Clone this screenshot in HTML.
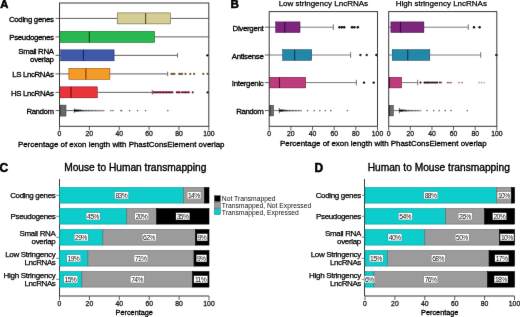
<!DOCTYPE html>
<html><head><meta charset="utf-8"><style>
html,body{margin:0;padding:0;background:#fff;width:520px;height:317px;overflow:hidden}
svg{display:block;font-family:"Liberation Sans", sans-serif}
</style></head><body>
<svg width="520" height="317" viewBox="0 0 520 317">
<defs><filter id="soft" x="0" y="0" width="520" height="317" filterUnits="userSpaceOnUse" color-interpolation-filters="sRGB"><feConvolveMatrix order="3" kernelMatrix="0.00276 0.04704 0.00276 0.04704 0.80077 0.04704 0.00276 0.04704 0.00276" edgeMode="duplicate"/></filter></defs>
<g filter="url(#soft)">
<rect x="0" y="0" width="520" height="317" fill="#fff"/>
<text x="0.20" y="8.10" font-size="11.2" text-anchor="start" font-weight="bold" fill="#000" stroke="#000" stroke-width="0.55" >A</text>
<text x="230.40" y="8.10" font-size="11.6" text-anchor="start" font-weight="bold" fill="#000" stroke="#000" stroke-width="0.55" >B</text>
<text x="-0.50" y="171.60" font-size="12" text-anchor="start" font-weight="bold" fill="#000" stroke="#000" stroke-width="0.5" >C</text>
<text x="314.60" y="171.60" font-size="12" text-anchor="start" font-weight="bold" fill="#000" stroke="#000" stroke-width="0.5" >D</text>
<line x1="55.50" y1="18.40" x2="59.50" y2="18.40" stroke="#3a3a3a" stroke-width="0.8"/>
<text x="54.00" y="21.70" font-size="7.88" text-anchor="end" font-weight="normal" fill="#000" stroke="#000" stroke-width="0.3"  textLength="45.05" lengthAdjust="spacing">Coding genes</text>
<line x1="55.50" y1="36.90" x2="59.50" y2="36.90" stroke="#3a3a3a" stroke-width="0.8"/>
<text x="54.00" y="40.20" font-size="7.88" text-anchor="end" font-weight="normal" fill="#000" stroke="#000" stroke-width="0.3"  textLength="44.65" lengthAdjust="spacing">Pseudogenes</text>
<line x1="55.50" y1="55.35" x2="59.50" y2="55.35" stroke="#3a3a3a" stroke-width="0.8"/>
<line x1="55.50" y1="73.90" x2="59.50" y2="73.90" stroke="#3a3a3a" stroke-width="0.8"/>
<text x="54.00" y="77.20" font-size="7.88" text-anchor="end" font-weight="normal" fill="#000" stroke="#000" stroke-width="0.3"  textLength="41.79" lengthAdjust="spacing">LS LncRNAs</text>
<line x1="55.50" y1="92.35" x2="59.50" y2="92.35" stroke="#3a3a3a" stroke-width="0.8"/>
<text x="54.00" y="95.65" font-size="7.88" text-anchor="end" font-weight="normal" fill="#000" stroke="#000" stroke-width="0.3"  textLength="43.00" lengthAdjust="spacing">HS LncRNAs</text>
<line x1="55.50" y1="110.60" x2="59.50" y2="110.60" stroke="#3a3a3a" stroke-width="0.8"/>
<text x="54.00" y="113.90" font-size="7.88" text-anchor="end" font-weight="normal" fill="#000" stroke="#000" stroke-width="0.3"  textLength="27.59" lengthAdjust="spacing">Random</text>
<text x="54.00" y="54.00" font-size="7.88" text-anchor="end" font-weight="normal" fill="#000" stroke="#000" stroke-width="0.3"  textLength="35.69" lengthAdjust="spacing">Small RNA</text>
<text x="54.00" y="61.90" font-size="7.88" text-anchor="end" font-weight="normal" fill="#000" stroke="#000" stroke-width="0.3"  textLength="23.94" lengthAdjust="spacing">overlap</text>
<line x1="59.50" y1="18.40" x2="117.20" y2="18.40" stroke="#606060" stroke-width="1.0"/>
<line x1="170.60" y1="18.40" x2="208.80" y2="18.40" stroke="#606060" stroke-width="1.0"/>
<rect x="117.20" y="12.90" width="53.40" height="11.00" fill="#d4cd96" stroke="#5b5020" stroke-width="0.5"/>
<line x1="145.60" y1="12.90" x2="145.60" y2="23.90" stroke="#5b5020" stroke-width="1.1"/>
<line x1="59.50" y1="36.90" x2="59.80" y2="36.90" stroke="#606060" stroke-width="1.0"/>
<line x1="154.60" y1="36.90" x2="208.80" y2="36.90" stroke="#606060" stroke-width="1.0"/>
<rect x="59.80" y="31.40" width="94.80" height="11.00" fill="#2ab950" stroke="#0c4a1a" stroke-width="0.5"/>
<line x1="89.30" y1="31.40" x2="89.30" y2="42.40" stroke="#0c4a1a" stroke-width="1.1"/>
<line x1="59.50" y1="55.35" x2="60.70" y2="55.35" stroke="#606060" stroke-width="1.0"/>
<line x1="114.10" y1="55.35" x2="177.50" y2="55.35" stroke="#606060" stroke-width="1.0"/>
<line x1="177.50" y1="53.05" x2="177.50" y2="57.65" stroke="#606060" stroke-width="0.9"/>
<rect x="60.70" y="49.85" width="53.40" height="11.00" fill="#3e58aa" stroke="#1a2560" stroke-width="0.5"/>
<line x1="83.40" y1="49.85" x2="83.40" y2="60.85" stroke="#1a2560" stroke-width="1.1"/>
<line x1="59.50" y1="73.90" x2="68.90" y2="73.90" stroke="#606060" stroke-width="1.0"/>
<line x1="109.90" y1="73.90" x2="167.70" y2="73.90" stroke="#606060" stroke-width="1.0"/>
<line x1="167.70" y1="71.60" x2="167.70" y2="76.20" stroke="#606060" stroke-width="0.9"/>
<rect x="68.90" y="68.40" width="41.00" height="11.00" fill="#f59b23" stroke="#7a3a05" stroke-width="0.5"/>
<line x1="85.90" y1="68.40" x2="85.90" y2="79.40" stroke="#7a3a05" stroke-width="1.1"/>
<line x1="59.50" y1="92.35" x2="59.80" y2="92.35" stroke="#606060" stroke-width="1.0"/>
<line x1="97.30" y1="92.35" x2="152.30" y2="92.35" stroke="#606060" stroke-width="1.0"/>
<line x1="152.30" y1="90.05" x2="152.30" y2="94.65" stroke="#606060" stroke-width="0.9"/>
<rect x="59.80" y="86.85" width="37.50" height="11.00" fill="#eb343a" stroke="#6a0a10" stroke-width="0.5"/>
<line x1="71.00" y1="86.85" x2="71.00" y2="97.85" stroke="#6a0a10" stroke-width="1.1"/>
<line x1="59.50" y1="110.60" x2="59.40" y2="110.60" stroke="#606060" stroke-width="1.0"/>
<line x1="66.00" y1="110.60" x2="74.40" y2="110.60" stroke="#606060" stroke-width="1.0"/>
<line x1="74.40" y1="108.30" x2="74.40" y2="112.90" stroke="#606060" stroke-width="0.9"/>
<rect x="59.40" y="105.10" width="6.60" height="11.00" fill="#646868" stroke="#333" stroke-width="0.5"/>
<line x1="60.00" y1="105.10" x2="60.00" y2="116.10" stroke="#333" stroke-width="1.1"/>
<circle cx="207.40" cy="55.35" r="1.2" fill="#111"/>
<circle cx="171.50" cy="73.90" r="1.1" fill="#7a5a30"/>
<circle cx="173.00" cy="73.90" r="1.1" fill="#7a5a30"/>
<circle cx="174.40" cy="73.90" r="1.1" fill="#7a5a30"/>
<circle cx="179.20" cy="73.90" r="1.1" fill="#7a5a30"/>
<circle cx="180.70" cy="73.90" r="1.1" fill="#7a5a30"/>
<circle cx="182.10" cy="73.90" r="1.1" fill="#7a5a30"/>
<circle cx="185.50" cy="73.90" r="1.1" fill="#7a5a30"/>
<circle cx="190.30" cy="73.90" r="1.1" fill="#7a5a30"/>
<circle cx="194.10" cy="73.90" r="1.1" fill="#7a5a30"/>
<circle cx="203.30" cy="73.90" r="1.1" fill="#7a5a30"/>
<circle cx="207.60" cy="73.90" r="1.1" fill="#7a5a30"/>
<circle cx="153.50" cy="92.35" r="1.1" fill="#6a1030"/>
<circle cx="154.95" cy="92.35" r="1.1" fill="#6a1030"/>
<circle cx="156.40" cy="92.35" r="1.1" fill="#6a1030"/>
<circle cx="157.85" cy="92.35" r="1.1" fill="#6a1030"/>
<circle cx="159.30" cy="92.35" r="1.1" fill="#6a1030"/>
<circle cx="160.75" cy="92.35" r="1.1" fill="#6a1030"/>
<circle cx="162.20" cy="92.35" r="1.1" fill="#6a1030"/>
<circle cx="163.65" cy="92.35" r="1.1" fill="#6a1030"/>
<circle cx="165.10" cy="92.35" r="1.1" fill="#6a1030"/>
<circle cx="166.55" cy="92.35" r="1.1" fill="#6a1030"/>
<circle cx="168.00" cy="92.35" r="1.1" fill="#6a1030"/>
<circle cx="169.45" cy="92.35" r="1.1" fill="#6a1030"/>
<circle cx="170.90" cy="92.35" r="1.1" fill="#6a1030"/>
<circle cx="172.35" cy="92.35" r="1.1" fill="#6a1030"/>
<circle cx="176.80" cy="92.35" r="1.1" fill="#6a1030"/>
<circle cx="178.20" cy="92.35" r="1.1" fill="#6a1030"/>
<circle cx="179.60" cy="92.35" r="1.1" fill="#6a1030"/>
<circle cx="182.10" cy="92.35" r="1.1" fill="#6a1030"/>
<circle cx="184.00" cy="92.35" r="1.1" fill="#6a1030"/>
<circle cx="185.50" cy="92.35" r="1.1" fill="#6a1030"/>
<circle cx="187.00" cy="92.35" r="1.1" fill="#6a1030"/>
<circle cx="188.80" cy="92.35" r="1.1" fill="#6a1030"/>
<circle cx="192.70" cy="92.35" r="1.1" fill="#6a1030"/>
<circle cx="207.80" cy="92.35" r="1.2" fill="#111"/>
<circle cx="75.10" cy="110.60" r="1.15" fill="rgb(0,0,0)"/>
<circle cx="76.40" cy="110.60" r="1.1083333333333332" fill="rgb(10,10,10)"/>
<circle cx="77.70" cy="110.60" r="1.0666666666666667" fill="rgb(20,20,20)"/>
<circle cx="79.00" cy="110.60" r="1.025" fill="rgb(30,30,30)"/>
<circle cx="80.30" cy="110.60" r="0.9833333333333333" fill="rgb(40,40,40)"/>
<circle cx="81.60" cy="110.60" r="0.9416666666666665" fill="rgb(50,50,50)"/>
<circle cx="82.90" cy="110.60" r="0.8999999999999999" fill="rgb(60,60,60)"/>
<line x1="83.00" y1="110.60" x2="105.00" y2="110.60" stroke="#9a9a9a" stroke-width="0.8"/>
<circle cx="83.80" cy="110.60" r="0.85" fill="rgb(80,80,80)"/>
<circle cx="85.30" cy="110.60" r="0.85" fill="rgb(85,85,85)"/>
<circle cx="86.80" cy="110.60" r="0.85" fill="rgb(90,90,90)"/>
<circle cx="88.30" cy="110.60" r="0.85" fill="rgb(96,96,96)"/>
<circle cx="89.80" cy="110.60" r="0.85" fill="rgb(101,101,101)"/>
<circle cx="91.30" cy="110.60" r="0.85" fill="rgb(106,106,106)"/>
<circle cx="92.80" cy="110.60" r="0.85" fill="rgb(112,112,112)"/>
<circle cx="94.30" cy="110.60" r="0.85" fill="rgb(117,117,117)"/>
<circle cx="95.80" cy="110.60" r="0.85" fill="rgb(123,123,123)"/>
<circle cx="97.30" cy="110.60" r="0.85" fill="rgb(128,128,128)"/>
<circle cx="98.80" cy="110.60" r="0.85" fill="rgb(133,133,133)"/>
<circle cx="100.30" cy="110.60" r="0.85" fill="rgb(139,139,139)"/>
<circle cx="101.80" cy="110.60" r="0.85" fill="rgb(144,144,144)"/>
<circle cx="103.30" cy="110.60" r="0.85" fill="rgb(150,150,150)"/>
<circle cx="110.80" cy="110.60" r="0.85" fill="#7a7a7a"/>
<circle cx="113.00" cy="110.60" r="0.85" fill="#7a7a7a"/>
<circle cx="121.00" cy="110.60" r="0.85" fill="#7a7a7a"/>
<circle cx="121.60" cy="110.60" r="0.85" fill="#7a7a7a"/>
<circle cx="129.60" cy="110.60" r="0.85" fill="#7a7a7a"/>
<circle cx="137.50" cy="110.60" r="0.85" fill="#7a7a7a"/>
<circle cx="145.50" cy="110.60" r="0.85" fill="#7a7a7a"/>
<circle cx="167.80" cy="110.60" r="0.85" fill="#7a7a7a"/>
<rect x="59.5" y="3.0" width="149.30" height="123.30" fill="none" stroke="#3a3a3a" stroke-width="1"/>
<line x1="59.50" y1="126.30" x2="59.50" y2="130.30" stroke="#3a3a3a" stroke-width="0.8"/>
<text x="59.50" y="136.30" font-size="6.8" text-anchor="middle" font-weight="normal" fill="#222" stroke="#222" stroke-width="0.3" >0</text>
<line x1="89.36" y1="126.30" x2="89.36" y2="130.30" stroke="#3a3a3a" stroke-width="0.8"/>
<text x="89.36" y="136.30" font-size="6.8" text-anchor="middle" font-weight="normal" fill="#222" stroke="#222" stroke-width="0.3" >20</text>
<line x1="119.22" y1="126.30" x2="119.22" y2="130.30" stroke="#3a3a3a" stroke-width="0.8"/>
<text x="119.22" y="136.30" font-size="6.8" text-anchor="middle" font-weight="normal" fill="#222" stroke="#222" stroke-width="0.3" >40</text>
<line x1="149.08" y1="126.30" x2="149.08" y2="130.30" stroke="#3a3a3a" stroke-width="0.8"/>
<text x="149.08" y="136.30" font-size="6.8" text-anchor="middle" font-weight="normal" fill="#222" stroke="#222" stroke-width="0.3" >60</text>
<line x1="178.94" y1="126.30" x2="178.94" y2="130.30" stroke="#3a3a3a" stroke-width="0.8"/>
<text x="178.94" y="136.30" font-size="6.8" text-anchor="middle" font-weight="normal" fill="#222" stroke="#222" stroke-width="0.3" >80</text>
<line x1="208.80" y1="126.30" x2="208.80" y2="130.30" stroke="#3a3a3a" stroke-width="0.8"/>
<text x="208.80" y="136.30" font-size="6.8" text-anchor="middle" font-weight="normal" fill="#222" stroke="#222" stroke-width="0.3" >100</text>
<text x="17.90" y="147.40" font-size="7.92" text-anchor="start" font-weight="normal" fill="#000" stroke="#000" stroke-width="0.3" >Percentage of exon length with PhastConsElement overlap</text>
<line x1="264.80" y1="27.20" x2="269.20" y2="27.20" stroke="#3a3a3a" stroke-width="0.8"/>
<text x="263.80" y="30.70" font-size="7.88" text-anchor="end" font-weight="normal" fill="#000" stroke="#000" stroke-width="0.3"  textLength="31.24" lengthAdjust="spacing">Divergent</text>
<line x1="264.80" y1="55.00" x2="269.20" y2="55.00" stroke="#3a3a3a" stroke-width="0.8"/>
<text x="263.80" y="58.50" font-size="7.88" text-anchor="end" font-weight="normal" fill="#000" stroke="#000" stroke-width="0.3"  textLength="32.06" lengthAdjust="spacing">Antisense</text>
<line x1="264.80" y1="82.60" x2="269.20" y2="82.60" stroke="#3a3a3a" stroke-width="0.8"/>
<text x="263.80" y="86.10" font-size="7.88" text-anchor="end" font-weight="normal" fill="#000" stroke="#000" stroke-width="0.3"  textLength="32.06" lengthAdjust="spacing">Intergenic</text>
<line x1="264.80" y1="110.60" x2="269.20" y2="110.60" stroke="#3a3a3a" stroke-width="0.8"/>
<text x="263.80" y="114.10" font-size="7.88" text-anchor="end" font-weight="normal" fill="#000" stroke="#000" stroke-width="0.3"  textLength="27.59" lengthAdjust="spacing">Random</text>
<line x1="269.20" y1="27.20" x2="275.70" y2="27.20" stroke="#666" stroke-width="0.85"/>
<line x1="300.00" y1="27.20" x2="333.30" y2="27.20" stroke="#666" stroke-width="0.85"/>
<line x1="333.30" y1="24.40" x2="333.30" y2="30.00" stroke="#666" stroke-width="0.9"/>
<rect x="275.70" y="21.90" width="24.30" height="10.60" fill="#7d267d" stroke="#3a0a3a" stroke-width="0.5"/>
<line x1="284.80" y1="21.90" x2="284.80" y2="32.50" stroke="#3a0a3a" stroke-width="1.1"/>
<line x1="269.20" y1="55.00" x2="282.70" y2="55.00" stroke="#666" stroke-width="0.85"/>
<line x1="311.70" y1="55.00" x2="350.60" y2="55.00" stroke="#666" stroke-width="0.85"/>
<line x1="350.60" y1="52.20" x2="350.60" y2="57.80" stroke="#666" stroke-width="0.9"/>
<rect x="282.70" y="49.70" width="29.00" height="10.60" fill="#2387aa" stroke="#0a3a50" stroke-width="0.5"/>
<line x1="294.70" y1="49.70" x2="294.70" y2="60.30" stroke="#0a3a50" stroke-width="1.1"/>
<line x1="269.20" y1="82.60" x2="269.50" y2="82.60" stroke="#666" stroke-width="0.85"/>
<line x1="305.70" y1="82.60" x2="356.40" y2="82.60" stroke="#666" stroke-width="0.85"/>
<line x1="356.40" y1="79.80" x2="356.40" y2="85.40" stroke="#666" stroke-width="0.9"/>
<rect x="269.50" y="77.30" width="36.20" height="10.60" fill="#be3c7d" stroke="#5a0a30" stroke-width="0.5"/>
<line x1="279.50" y1="77.30" x2="279.50" y2="87.90" stroke="#5a0a30" stroke-width="1.1"/>
<line x1="269.20" y1="110.60" x2="269.40" y2="110.60" stroke="#666" stroke-width="0.85"/>
<line x1="273.60" y1="110.60" x2="279.30" y2="110.60" stroke="#666" stroke-width="0.85"/>
<line x1="279.30" y1="107.80" x2="279.30" y2="113.40" stroke="#666" stroke-width="0.9"/>
<rect x="269.40" y="105.30" width="4.20" height="10.60" fill="#6a6e6e" stroke="#333" stroke-width="0.5"/>
<line x1="270.00" y1="105.30" x2="270.00" y2="115.90" stroke="#333" stroke-width="1.1"/>
<line x1="388.70" y1="27.20" x2="390.90" y2="27.20" stroke="#666" stroke-width="0.85"/>
<line x1="423.90" y1="27.20" x2="468.30" y2="27.20" stroke="#666" stroke-width="0.85"/>
<line x1="468.30" y1="24.40" x2="468.30" y2="30.00" stroke="#666" stroke-width="0.9"/>
<rect x="390.90" y="21.90" width="33.00" height="10.60" fill="#7d267d" stroke="#3a0a3a" stroke-width="0.5"/>
<line x1="400.50" y1="21.90" x2="400.50" y2="32.50" stroke="#3a0a3a" stroke-width="1.1"/>
<line x1="388.70" y1="55.00" x2="392.20" y2="55.00" stroke="#666" stroke-width="0.85"/>
<line x1="429.80" y1="55.00" x2="480.70" y2="55.00" stroke="#666" stroke-width="0.85"/>
<line x1="480.70" y1="52.20" x2="480.70" y2="57.80" stroke="#666" stroke-width="0.9"/>
<rect x="392.20" y="49.70" width="37.60" height="10.60" fill="#2387aa" stroke="#0a3a50" stroke-width="0.5"/>
<line x1="407.70" y1="49.70" x2="407.70" y2="60.30" stroke="#0a3a50" stroke-width="1.1"/>
<line x1="388.70" y1="82.60" x2="389.00" y2="82.60" stroke="#666" stroke-width="0.85"/>
<line x1="401.60" y1="82.60" x2="417.70" y2="82.60" stroke="#666" stroke-width="0.85"/>
<line x1="417.70" y1="79.80" x2="417.70" y2="85.40" stroke="#666" stroke-width="0.9"/>
<rect x="389.00" y="77.30" width="12.60" height="10.60" fill="#be3c7d" stroke="#5a0a30" stroke-width="0.5"/>
<line x1="389.50" y1="77.30" x2="389.50" y2="87.90" stroke="#5a0a30" stroke-width="1.1"/>
<line x1="388.70" y1="110.60" x2="389.00" y2="110.60" stroke="#666" stroke-width="0.85"/>
<line x1="393.40" y1="110.60" x2="399.40" y2="110.60" stroke="#666" stroke-width="0.85"/>
<line x1="399.40" y1="107.80" x2="399.40" y2="113.40" stroke="#666" stroke-width="0.9"/>
<rect x="389.00" y="105.30" width="4.40" height="10.60" fill="#6a6e6e" stroke="#333" stroke-width="0.5"/>
<line x1="389.50" y1="105.30" x2="389.50" y2="115.90" stroke="#333" stroke-width="1.1"/>
<circle cx="339.50" cy="27.20" r="1.25" fill="#111"/>
<circle cx="341.80" cy="27.20" r="1.25" fill="#111"/>
<circle cx="344.20" cy="27.20" r="1.25" fill="#111"/>
<circle cx="352.00" cy="27.20" r="1.25" fill="#111"/>
<circle cx="354.30" cy="27.20" r="1.25" fill="#111"/>
<circle cx="357.80" cy="27.20" r="1.25" fill="#111"/>
<circle cx="360.40" cy="55.00" r="1.2" fill="#1a3a3a"/>
<circle cx="366.70" cy="55.00" r="1.2" fill="#1a3a3a"/>
<circle cx="376.40" cy="55.00" r="1.2" fill="#111"/>
<circle cx="364.00" cy="82.60" r="1.2" fill="#111"/>
<circle cx="373.70" cy="82.60" r="1.2" fill="#111"/>
<circle cx="280.00" cy="110.60" r="1.15" fill="rgb(0,0,0)"/>
<circle cx="281.30" cy="110.60" r="1.0999999999999999" fill="rgb(12,12,12)"/>
<circle cx="282.60" cy="110.60" r="1.0499999999999998" fill="rgb(24,24,24)"/>
<circle cx="283.90" cy="110.60" r="0.9999999999999999" fill="rgb(36,36,36)"/>
<circle cx="285.20" cy="110.60" r="0.95" fill="rgb(48,48,48)"/>
<circle cx="286.50" cy="110.60" r="0.8999999999999999" fill="rgb(60,60,60)"/>
<line x1="287.00" y1="110.60" x2="302.00" y2="110.60" stroke="#9a9a9a" stroke-width="0.8"/>
<circle cx="287.80" cy="110.60" r="0.85" fill="rgb(80,80,80)"/>
<circle cx="289.30" cy="110.60" r="0.85" fill="rgb(87,87,87)"/>
<circle cx="290.80" cy="110.60" r="0.85" fill="rgb(95,95,95)"/>
<circle cx="292.30" cy="110.60" r="0.85" fill="rgb(103,103,103)"/>
<circle cx="293.80" cy="110.60" r="0.85" fill="rgb(111,111,111)"/>
<circle cx="295.30" cy="110.60" r="0.85" fill="rgb(118,118,118)"/>
<circle cx="296.80" cy="110.60" r="0.85" fill="rgb(126,126,126)"/>
<circle cx="298.30" cy="110.60" r="0.85" fill="rgb(134,134,134)"/>
<circle cx="299.80" cy="110.60" r="0.85" fill="rgb(142,142,142)"/>
<circle cx="301.30" cy="110.60" r="0.85" fill="rgb(150,150,150)"/>
<circle cx="307.60" cy="110.60" r="0.85" fill="#7a7a7a"/>
<circle cx="314.20" cy="110.60" r="0.85" fill="#7a7a7a"/>
<circle cx="319.80" cy="110.60" r="0.85" fill="#7a7a7a"/>
<circle cx="325.30" cy="110.60" r="0.85" fill="#7a7a7a"/>
<circle cx="330.80" cy="110.60" r="0.85" fill="#7a7a7a"/>
<circle cx="347.40" cy="110.60" r="0.85" fill="#7a7a7a"/>
<circle cx="474.00" cy="27.20" r="1.2" fill="#111"/>
<circle cx="479.60" cy="27.20" r="1.2" fill="#111"/>
<circle cx="496.40" cy="55.00" r="1.3" fill="#111"/>
<circle cx="420.50" cy="82.60" r="1.1" fill="#381020"/>
<circle cx="424.50" cy="82.60" r="1.1" fill="#381020"/>
<circle cx="426.00" cy="82.60" r="1.1" fill="#381020"/>
<circle cx="427.50" cy="82.60" r="1.1" fill="#381020"/>
<circle cx="429.00" cy="82.60" r="1.1" fill="#381020"/>
<circle cx="431.00" cy="82.60" r="1.1" fill="#381020"/>
<circle cx="433.00" cy="82.60" r="1.1" fill="#381020"/>
<circle cx="435.00" cy="82.60" r="1.1" fill="#381020"/>
<circle cx="437.00" cy="82.60" r="1.1" fill="#381020"/>
<circle cx="439.50" cy="82.60" r="1.0" fill="#6a3a4a"/>
<circle cx="441.00" cy="82.60" r="1.0" fill="#6a3a4a"/>
<circle cx="447.50" cy="82.60" r="0.95" fill="#9a6078"/>
<circle cx="449.00" cy="82.60" r="0.95" fill="#9a6078"/>
<circle cx="451.00" cy="82.60" r="0.95" fill="#9a6078"/>
<circle cx="459.00" cy="82.60" r="0.9" fill="#a07888"/>
<circle cx="462.00" cy="82.60" r="0.9" fill="#a07888"/>
<circle cx="479.00" cy="82.60" r="0.85" fill="#b09aa2"/>
<circle cx="481.50" cy="82.60" r="0.85" fill="#b09aa2"/>
<circle cx="484.00" cy="82.60" r="0.85" fill="#b09aa2"/>
<circle cx="400.10" cy="110.60" r="1.15" fill="rgb(0,0,0)"/>
<circle cx="401.40" cy="110.60" r="1.0999999999999999" fill="rgb(12,12,12)"/>
<circle cx="402.70" cy="110.60" r="1.0499999999999998" fill="rgb(24,24,24)"/>
<circle cx="404.00" cy="110.60" r="0.9999999999999999" fill="rgb(36,36,36)"/>
<circle cx="405.30" cy="110.60" r="0.95" fill="rgb(48,48,48)"/>
<circle cx="406.60" cy="110.60" r="0.8999999999999999" fill="rgb(60,60,60)"/>
<line x1="406.00" y1="110.60" x2="421.50" y2="110.60" stroke="#9a9a9a" stroke-width="0.8"/>
<circle cx="406.80" cy="110.60" r="0.85" fill="rgb(80,80,80)"/>
<circle cx="408.30" cy="110.60" r="0.85" fill="rgb(87,87,87)"/>
<circle cx="409.80" cy="110.60" r="0.85" fill="rgb(95,95,95)"/>
<circle cx="411.30" cy="110.60" r="0.85" fill="rgb(103,103,103)"/>
<circle cx="412.80" cy="110.60" r="0.85" fill="rgb(111,111,111)"/>
<circle cx="414.30" cy="110.60" r="0.85" fill="rgb(118,118,118)"/>
<circle cx="415.80" cy="110.60" r="0.85" fill="rgb(126,126,126)"/>
<circle cx="417.30" cy="110.60" r="0.85" fill="rgb(134,134,134)"/>
<circle cx="418.80" cy="110.60" r="0.85" fill="rgb(142,142,142)"/>
<circle cx="420.30" cy="110.60" r="0.85" fill="rgb(150,150,150)"/>
<circle cx="427.00" cy="110.60" r="0.85" fill="#7a7a7a"/>
<circle cx="433.70" cy="110.60" r="0.85" fill="#7a7a7a"/>
<circle cx="439.20" cy="110.60" r="0.85" fill="#7a7a7a"/>
<circle cx="445.20" cy="110.60" r="0.85" fill="#7a7a7a"/>
<circle cx="451.00" cy="110.60" r="0.85" fill="#7a7a7a"/>
<circle cx="467.30" cy="110.60" r="0.85" fill="#7a7a7a"/>
<rect x="269.2" y="11.6" width="108.30" height="114.70" fill="none" stroke="#3a3a3a" stroke-width="1"/>
<text x="323.35" y="5.70" font-size="8.0" text-anchor="middle" font-weight="normal" fill="#000" stroke="#000" stroke-width="0.25" >Low stringency LncRNAs</text>
<line x1="269.20" y1="126.30" x2="269.20" y2="130.30" stroke="#3a3a3a" stroke-width="0.8"/>
<text x="269.20" y="136.30" font-size="6.8" text-anchor="middle" font-weight="normal" fill="#222" stroke="#222" stroke-width="0.3" >0</text>
<line x1="290.86" y1="126.30" x2="290.86" y2="130.30" stroke="#3a3a3a" stroke-width="0.8"/>
<text x="290.86" y="136.30" font-size="6.8" text-anchor="middle" font-weight="normal" fill="#222" stroke="#222" stroke-width="0.3" >20</text>
<line x1="312.52" y1="126.30" x2="312.52" y2="130.30" stroke="#3a3a3a" stroke-width="0.8"/>
<text x="312.52" y="136.30" font-size="6.8" text-anchor="middle" font-weight="normal" fill="#222" stroke="#222" stroke-width="0.3" >40</text>
<line x1="334.18" y1="126.30" x2="334.18" y2="130.30" stroke="#3a3a3a" stroke-width="0.8"/>
<text x="334.18" y="136.30" font-size="6.8" text-anchor="middle" font-weight="normal" fill="#222" stroke="#222" stroke-width="0.3" >60</text>
<line x1="355.84" y1="126.30" x2="355.84" y2="130.30" stroke="#3a3a3a" stroke-width="0.8"/>
<text x="355.84" y="136.30" font-size="6.8" text-anchor="middle" font-weight="normal" fill="#222" stroke="#222" stroke-width="0.3" >80</text>
<line x1="377.50" y1="126.30" x2="377.50" y2="130.30" stroke="#3a3a3a" stroke-width="0.8"/>
<text x="377.50" y="136.30" font-size="6.8" text-anchor="middle" font-weight="normal" fill="#222" stroke="#222" stroke-width="0.3" >100</text>
<rect x="388.7" y="11.6" width="108.10" height="114.70" fill="none" stroke="#3a3a3a" stroke-width="1"/>
<text x="441.35" y="5.70" font-size="8.0" text-anchor="middle" font-weight="normal" fill="#000" stroke="#000" stroke-width="0.25" >High stringency LncRNAs</text>
<line x1="388.70" y1="126.30" x2="388.70" y2="130.30" stroke="#3a3a3a" stroke-width="0.8"/>
<text x="388.70" y="136.30" font-size="6.8" text-anchor="middle" font-weight="normal" fill="#222" stroke="#222" stroke-width="0.3" >0</text>
<line x1="410.32" y1="126.30" x2="410.32" y2="130.30" stroke="#3a3a3a" stroke-width="0.8"/>
<text x="410.32" y="136.30" font-size="6.8" text-anchor="middle" font-weight="normal" fill="#222" stroke="#222" stroke-width="0.3" >20</text>
<line x1="431.94" y1="126.30" x2="431.94" y2="130.30" stroke="#3a3a3a" stroke-width="0.8"/>
<text x="431.94" y="136.30" font-size="6.8" text-anchor="middle" font-weight="normal" fill="#222" stroke="#222" stroke-width="0.3" >40</text>
<line x1="453.56" y1="126.30" x2="453.56" y2="130.30" stroke="#3a3a3a" stroke-width="0.8"/>
<text x="453.56" y="136.30" font-size="6.8" text-anchor="middle" font-weight="normal" fill="#222" stroke="#222" stroke-width="0.3" >60</text>
<line x1="475.18" y1="126.30" x2="475.18" y2="130.30" stroke="#3a3a3a" stroke-width="0.8"/>
<text x="475.18" y="136.30" font-size="6.8" text-anchor="middle" font-weight="normal" fill="#222" stroke="#222" stroke-width="0.3" >80</text>
<line x1="496.80" y1="126.30" x2="496.80" y2="130.30" stroke="#3a3a3a" stroke-width="0.8"/>
<text x="496.80" y="136.30" font-size="6.8" text-anchor="middle" font-weight="normal" fill="#222" stroke="#222" stroke-width="0.3" >100</text>
<text x="280.00" y="146.30" font-size="7.92" text-anchor="start" font-weight="normal" fill="#000" stroke="#000" stroke-width="0.3" >Percentage of exon length with PhastConsElement overlap</text>
<text x="64.20" y="170.50" font-size="10.2" text-anchor="start" font-weight="normal" fill="#000" stroke="#000" stroke-width="0.35" >Mouse to Human transmapping</text>
<line x1="59.50" y1="179.00" x2="59.50" y2="296.00" stroke="#3a3a3a" stroke-width="1"/>
<rect x="59.50" y="187.50" width="124.09" height="15.60" fill="#0ccccc" stroke="#089a9a" stroke-width="0.6"/>
<rect x="183.59" y="187.50" width="20.93" height="15.60" fill="#9b9b9b" stroke="#6a6a6a" stroke-width="0.6"/>
<rect x="204.52" y="187.50" width="4.48" height="15.60" fill="#000" stroke="#000" stroke-width="0.6"/>
<line x1="56.20" y1="195.30" x2="59.20" y2="195.30" stroke="#555" stroke-width="0.7"/>
<rect x="59.50" y="208.50" width="67.28" height="15.60" fill="#0ccccc" stroke="#089a9a" stroke-width="0.6"/>
<rect x="126.78" y="208.50" width="29.90" height="15.60" fill="#9b9b9b" stroke="#6a6a6a" stroke-width="0.6"/>
<rect x="156.68" y="208.50" width="52.32" height="15.60" fill="#000" stroke="#000" stroke-width="0.6"/>
<line x1="56.20" y1="216.30" x2="59.20" y2="216.30" stroke="#555" stroke-width="0.7"/>
<rect x="59.50" y="229.50" width="43.36" height="15.60" fill="#0ccccc" stroke="#089a9a" stroke-width="0.6"/>
<rect x="102.86" y="229.50" width="92.69" height="15.60" fill="#9b9b9b" stroke="#6a6a6a" stroke-width="0.6"/>
<rect x="195.55" y="229.50" width="13.45" height="15.60" fill="#000" stroke="#000" stroke-width="0.6"/>
<line x1="56.20" y1="237.30" x2="59.20" y2="237.30" stroke="#555" stroke-width="0.7"/>
<rect x="59.50" y="250.50" width="28.41" height="15.60" fill="#0ccccc" stroke="#089a9a" stroke-width="0.6"/>
<rect x="87.91" y="250.50" width="106.15" height="15.60" fill="#9b9b9b" stroke="#6a6a6a" stroke-width="0.6"/>
<rect x="194.05" y="250.50" width="14.95" height="15.60" fill="#000" stroke="#000" stroke-width="0.6"/>
<line x1="56.20" y1="258.30" x2="59.20" y2="258.30" stroke="#555" stroke-width="0.7"/>
<rect x="59.50" y="271.50" width="22.42" height="15.60" fill="#0ccccc" stroke="#089a9a" stroke-width="0.6"/>
<rect x="81.92" y="271.50" width="110.63" height="15.60" fill="#9b9b9b" stroke="#6a6a6a" stroke-width="0.6"/>
<rect x="192.56" y="271.50" width="16.44" height="15.60" fill="#000" stroke="#000" stroke-width="0.6"/>
<line x1="56.20" y1="279.30" x2="59.20" y2="279.30" stroke="#555" stroke-width="0.7"/>
<line x1="59.50" y1="296.00" x2="209.00" y2="296.00" stroke="#3a3a3a" stroke-width="1"/>
<line x1="59.50" y1="296.00" x2="59.50" y2="300.00" stroke="#3a3a3a" stroke-width="0.8"/>
<text x="59.50" y="306.30" font-size="6.8" text-anchor="middle" font-weight="normal" fill="#222" stroke="#222" stroke-width="0.3" >0</text>
<line x1="89.40" y1="296.00" x2="89.40" y2="300.00" stroke="#3a3a3a" stroke-width="0.8"/>
<text x="89.40" y="306.30" font-size="6.8" text-anchor="middle" font-weight="normal" fill="#222" stroke="#222" stroke-width="0.3" >20</text>
<line x1="119.30" y1="296.00" x2="119.30" y2="300.00" stroke="#3a3a3a" stroke-width="0.8"/>
<text x="119.30" y="306.30" font-size="6.8" text-anchor="middle" font-weight="normal" fill="#222" stroke="#222" stroke-width="0.3" >40</text>
<line x1="149.20" y1="296.00" x2="149.20" y2="300.00" stroke="#3a3a3a" stroke-width="0.8"/>
<text x="149.20" y="306.30" font-size="6.8" text-anchor="middle" font-weight="normal" fill="#222" stroke="#222" stroke-width="0.3" >60</text>
<line x1="179.10" y1="296.00" x2="179.10" y2="300.00" stroke="#3a3a3a" stroke-width="0.8"/>
<text x="179.10" y="306.30" font-size="6.8" text-anchor="middle" font-weight="normal" fill="#222" stroke="#222" stroke-width="0.3" >80</text>
<line x1="209.00" y1="296.00" x2="209.00" y2="300.00" stroke="#3a3a3a" stroke-width="0.8"/>
<text x="209.00" y="306.30" font-size="6.8" text-anchor="middle" font-weight="normal" fill="#222" stroke="#222" stroke-width="0.3" >100</text>
<text x="134.25" y="315.40" font-size="7.3" text-anchor="middle" font-weight="normal" fill="#000" stroke="#000" stroke-width="0.3" >Percentage</text>
<text x="55.80" y="197.70" font-size="7.99" text-anchor="end" font-weight="normal" fill="#000" stroke="#000" stroke-width="0.25"  textLength="45.66" lengthAdjust="spacing">Coding genes</text>
<text x="55.80" y="218.70" font-size="7.99" text-anchor="end" font-weight="normal" fill="#000" stroke="#000" stroke-width="0.25"  textLength="45.26" lengthAdjust="spacing">Pseudogenes</text>
<text x="55.80" y="235.50" font-size="7.99" text-anchor="end" font-weight="normal" fill="#000" stroke="#000" stroke-width="0.25"  textLength="36.18" lengthAdjust="spacing">Small RNA</text>
<text x="55.80" y="243.80" font-size="7.99" text-anchor="end" font-weight="normal" fill="#000" stroke="#000" stroke-width="0.25"  textLength="24.27" lengthAdjust="spacing">overlap</text>
<text x="55.80" y="256.50" font-size="7.99" text-anchor="end" font-weight="normal" fill="#000" stroke="#000" stroke-width="0.25"  textLength="50.59" lengthAdjust="spacing">Low Stringency</text>
<text x="55.80" y="264.80" font-size="7.99" text-anchor="end" font-weight="normal" fill="#000" stroke="#000" stroke-width="0.25"  textLength="31.25" lengthAdjust="spacing">LncRNAs</text>
<text x="55.80" y="277.50" font-size="7.99" text-anchor="end" font-weight="normal" fill="#000" stroke="#000" stroke-width="0.25"  textLength="52.23" lengthAdjust="spacing">High Stringency</text>
<text x="55.80" y="285.80" font-size="7.99" text-anchor="end" font-weight="normal" fill="#000" stroke="#000" stroke-width="0.25"  textLength="31.25" lengthAdjust="spacing">LncRNAs</text>
<rect x="114.64" y="191.80" width="13.80" height="7.10" fill="#fff" stroke="#555" stroke-width="0.25"/>
<text x="121.54" y="197.50" font-size="6.71" text-anchor="middle" font-weight="normal" fill="#111"  textLength="12.21" lengthAdjust="spacing">83%</text>
<rect x="187.15" y="191.80" width="13.80" height="7.10" fill="#fff" stroke="#555" stroke-width="0.25"/>
<text x="194.05" y="197.50" font-size="6.71" text-anchor="middle" font-weight="normal" fill="#111"  textLength="12.21" lengthAdjust="spacing">14%</text>
<rect x="86.24" y="212.80" width="13.80" height="7.10" fill="#fff" stroke="#555" stroke-width="0.25"/>
<text x="93.14" y="218.50" font-size="6.71" text-anchor="middle" font-weight="normal" fill="#111"  textLength="12.21" lengthAdjust="spacing">45%</text>
<rect x="134.83" y="212.80" width="13.80" height="7.10" fill="#fff" stroke="#555" stroke-width="0.25"/>
<text x="141.73" y="218.50" font-size="6.71" text-anchor="middle" font-weight="normal" fill="#111"  textLength="12.21" lengthAdjust="spacing">20%</text>
<rect x="175.94" y="212.80" width="13.80" height="7.10" fill="#fff" stroke="#555" stroke-width="0.25"/>
<text x="182.84" y="218.50" font-size="6.71" text-anchor="middle" font-weight="normal" fill="#111"  textLength="12.21" lengthAdjust="spacing">35%</text>
<rect x="74.28" y="233.80" width="13.80" height="7.10" fill="#fff" stroke="#555" stroke-width="0.25"/>
<text x="81.18" y="239.50" font-size="6.71" text-anchor="middle" font-weight="normal" fill="#111"  textLength="12.21" lengthAdjust="spacing">29%</text>
<rect x="142.30" y="233.80" width="13.80" height="7.10" fill="#fff" stroke="#555" stroke-width="0.25"/>
<text x="149.20" y="239.50" font-size="6.71" text-anchor="middle" font-weight="normal" fill="#111"  textLength="12.21" lengthAdjust="spacing">62%</text>
<rect x="197.07" y="233.80" width="10.40" height="7.10" fill="#fff" stroke="#555" stroke-width="0.25"/>
<text x="202.27" y="239.50" font-size="6.71" text-anchor="middle" font-weight="normal" fill="#111"  textLength="8.82" lengthAdjust="spacing">9%</text>
<rect x="66.80" y="254.80" width="13.80" height="7.10" fill="#fff" stroke="#555" stroke-width="0.25"/>
<text x="73.70" y="260.50" font-size="6.71" text-anchor="middle" font-weight="normal" fill="#111"  textLength="12.21" lengthAdjust="spacing">19%</text>
<rect x="134.08" y="254.80" width="13.80" height="7.10" fill="#fff" stroke="#555" stroke-width="0.25"/>
<text x="140.98" y="260.50" font-size="6.71" text-anchor="middle" font-weight="normal" fill="#111"  textLength="12.21" lengthAdjust="spacing">71%</text>
<rect x="196.33" y="254.80" width="10.40" height="7.10" fill="#fff" stroke="#555" stroke-width="0.25"/>
<text x="201.53" y="260.50" font-size="6.71" text-anchor="middle" font-weight="normal" fill="#111"  textLength="8.82" lengthAdjust="spacing">9%</text>
<rect x="63.81" y="275.80" width="13.80" height="7.10" fill="#fff" stroke="#555" stroke-width="0.25"/>
<text x="70.71" y="281.50" font-size="6.71" text-anchor="middle" font-weight="normal" fill="#111"  textLength="12.21" lengthAdjust="spacing">15%</text>
<rect x="130.34" y="275.80" width="13.80" height="7.10" fill="#fff" stroke="#555" stroke-width="0.25"/>
<text x="137.24" y="281.50" font-size="6.71" text-anchor="middle" font-weight="normal" fill="#111"  textLength="12.21" lengthAdjust="spacing">74%</text>
<rect x="193.88" y="275.80" width="13.80" height="7.10" fill="#fff" stroke="#555" stroke-width="0.25"/>
<text x="200.78" y="281.50" font-size="6.71" text-anchor="middle" font-weight="normal" fill="#111"  textLength="11.76" lengthAdjust="spacing">11%</text>
<text x="367.70" y="170.50" font-size="10.2" text-anchor="start" font-weight="normal" fill="#000" stroke="#000" stroke-width="0.35" >Human to Mouse transmapping</text>
<line x1="364.50" y1="179.00" x2="364.50" y2="296.00" stroke="#3a3a3a" stroke-width="1"/>
<rect x="365.00" y="187.50" width="131.56" height="15.60" fill="#0ccccc" stroke="#089a9a" stroke-width="0.6"/>
<rect x="496.56" y="187.50" width="14.95" height="15.60" fill="#9b9b9b" stroke="#6a6a6a" stroke-width="0.6"/>
<rect x="511.51" y="187.50" width="2.99" height="15.60" fill="#000" stroke="#000" stroke-width="0.6"/>
<line x1="361.70" y1="195.30" x2="364.70" y2="195.30" stroke="#555" stroke-width="0.7"/>
<rect x="365.00" y="208.50" width="80.73" height="15.60" fill="#0ccccc" stroke="#089a9a" stroke-width="0.6"/>
<rect x="445.73" y="208.50" width="38.87" height="15.60" fill="#9b9b9b" stroke="#6a6a6a" stroke-width="0.6"/>
<rect x="484.60" y="208.50" width="29.90" height="15.60" fill="#000" stroke="#000" stroke-width="0.6"/>
<line x1="361.70" y1="216.30" x2="364.70" y2="216.30" stroke="#555" stroke-width="0.7"/>
<rect x="365.00" y="229.50" width="59.80" height="15.60" fill="#0ccccc" stroke="#089a9a" stroke-width="0.6"/>
<rect x="424.80" y="229.50" width="74.75" height="15.60" fill="#9b9b9b" stroke="#6a6a6a" stroke-width="0.6"/>
<rect x="499.55" y="229.50" width="14.95" height="15.60" fill="#000" stroke="#000" stroke-width="0.6"/>
<line x1="361.70" y1="237.30" x2="364.70" y2="237.30" stroke="#555" stroke-width="0.7"/>
<rect x="365.00" y="250.50" width="22.43" height="15.60" fill="#0ccccc" stroke="#089a9a" stroke-width="0.6"/>
<rect x="387.43" y="250.50" width="101.66" height="15.60" fill="#9b9b9b" stroke="#6a6a6a" stroke-width="0.6"/>
<rect x="489.09" y="250.50" width="25.41" height="15.60" fill="#000" stroke="#000" stroke-width="0.6"/>
<line x1="361.70" y1="258.30" x2="364.70" y2="258.30" stroke="#555" stroke-width="0.7"/>
<rect x="365.00" y="271.50" width="8.97" height="15.60" fill="#0ccccc" stroke="#089a9a" stroke-width="0.6"/>
<rect x="373.97" y="271.50" width="113.62" height="15.60" fill="#9b9b9b" stroke="#6a6a6a" stroke-width="0.6"/>
<rect x="487.59" y="271.50" width="26.91" height="15.60" fill="#000" stroke="#000" stroke-width="0.6"/>
<line x1="361.70" y1="279.30" x2="364.70" y2="279.30" stroke="#555" stroke-width="0.7"/>
<line x1="365.00" y1="296.00" x2="514.50" y2="296.00" stroke="#3a3a3a" stroke-width="1"/>
<line x1="365.00" y1="296.00" x2="365.00" y2="300.00" stroke="#3a3a3a" stroke-width="0.8"/>
<text x="365.00" y="306.30" font-size="6.8" text-anchor="middle" font-weight="normal" fill="#222" stroke="#222" stroke-width="0.3" >0</text>
<line x1="394.90" y1="296.00" x2="394.90" y2="300.00" stroke="#3a3a3a" stroke-width="0.8"/>
<text x="394.90" y="306.30" font-size="6.8" text-anchor="middle" font-weight="normal" fill="#222" stroke="#222" stroke-width="0.3" >20</text>
<line x1="424.80" y1="296.00" x2="424.80" y2="300.00" stroke="#3a3a3a" stroke-width="0.8"/>
<text x="424.80" y="306.30" font-size="6.8" text-anchor="middle" font-weight="normal" fill="#222" stroke="#222" stroke-width="0.3" >40</text>
<line x1="454.70" y1="296.00" x2="454.70" y2="300.00" stroke="#3a3a3a" stroke-width="0.8"/>
<text x="454.70" y="306.30" font-size="6.8" text-anchor="middle" font-weight="normal" fill="#222" stroke="#222" stroke-width="0.3" >60</text>
<line x1="484.60" y1="296.00" x2="484.60" y2="300.00" stroke="#3a3a3a" stroke-width="0.8"/>
<text x="484.60" y="306.30" font-size="6.8" text-anchor="middle" font-weight="normal" fill="#222" stroke="#222" stroke-width="0.3" >80</text>
<line x1="514.50" y1="296.00" x2="514.50" y2="300.00" stroke="#3a3a3a" stroke-width="0.8"/>
<text x="514.50" y="306.30" font-size="6.8" text-anchor="middle" font-weight="normal" fill="#222" stroke="#222" stroke-width="0.3" >100</text>
<text x="439.75" y="315.40" font-size="7.3" text-anchor="middle" font-weight="normal" fill="#000" stroke="#000" stroke-width="0.3" >Percentage</text>
<text x="361.30" y="197.70" font-size="7.99" text-anchor="end" font-weight="normal" fill="#000" stroke="#000" stroke-width="0.25"  textLength="45.66" lengthAdjust="spacing">Coding genes</text>
<text x="361.30" y="218.70" font-size="7.99" text-anchor="end" font-weight="normal" fill="#000" stroke="#000" stroke-width="0.25"  textLength="45.26" lengthAdjust="spacing">Pseudogenes</text>
<text x="361.30" y="235.50" font-size="7.99" text-anchor="end" font-weight="normal" fill="#000" stroke="#000" stroke-width="0.25"  textLength="36.18" lengthAdjust="spacing">Small RNA</text>
<text x="361.30" y="243.80" font-size="7.99" text-anchor="end" font-weight="normal" fill="#000" stroke="#000" stroke-width="0.25"  textLength="24.27" lengthAdjust="spacing">overlap</text>
<text x="361.30" y="256.50" font-size="7.99" text-anchor="end" font-weight="normal" fill="#000" stroke="#000" stroke-width="0.25"  textLength="50.59" lengthAdjust="spacing">Low Stringency</text>
<text x="361.30" y="264.80" font-size="7.99" text-anchor="end" font-weight="normal" fill="#000" stroke="#000" stroke-width="0.25"  textLength="31.25" lengthAdjust="spacing">LncRNAs</text>
<text x="361.30" y="277.50" font-size="7.99" text-anchor="end" font-weight="normal" fill="#000" stroke="#000" stroke-width="0.25"  textLength="52.23" lengthAdjust="spacing">High Stringency</text>
<text x="361.30" y="285.80" font-size="7.99" text-anchor="end" font-weight="normal" fill="#000" stroke="#000" stroke-width="0.25"  textLength="31.25" lengthAdjust="spacing">LncRNAs</text>
<rect x="423.88" y="191.80" width="13.80" height="7.10" fill="#fff" stroke="#555" stroke-width="0.25"/>
<text x="430.78" y="197.50" font-size="6.71" text-anchor="middle" font-weight="normal" fill="#111"  textLength="12.21" lengthAdjust="spacing">88%</text>
<rect x="497.13" y="191.80" width="13.80" height="7.10" fill="#fff" stroke="#555" stroke-width="0.25"/>
<text x="504.03" y="197.50" font-size="6.71" text-anchor="middle" font-weight="normal" fill="#111"  textLength="12.21" lengthAdjust="spacing">10%</text>
<rect x="398.47" y="212.80" width="13.80" height="7.10" fill="#fff" stroke="#555" stroke-width="0.25"/>
<text x="405.37" y="218.50" font-size="6.71" text-anchor="middle" font-weight="normal" fill="#111"  textLength="12.21" lengthAdjust="spacing">54%</text>
<rect x="458.27" y="212.80" width="13.80" height="7.10" fill="#fff" stroke="#555" stroke-width="0.25"/>
<text x="465.17" y="218.50" font-size="6.71" text-anchor="middle" font-weight="normal" fill="#111"  textLength="12.21" lengthAdjust="spacing">26%</text>
<rect x="492.65" y="212.80" width="13.80" height="7.10" fill="#fff" stroke="#555" stroke-width="0.25"/>
<text x="499.55" y="218.50" font-size="6.71" text-anchor="middle" font-weight="normal" fill="#111"  textLength="12.21" lengthAdjust="spacing">20%</text>
<rect x="388.00" y="233.80" width="13.80" height="7.10" fill="#fff" stroke="#555" stroke-width="0.25"/>
<text x="394.90" y="239.50" font-size="6.71" text-anchor="middle" font-weight="normal" fill="#111"  textLength="12.21" lengthAdjust="spacing">40%</text>
<rect x="455.28" y="233.80" width="13.80" height="7.10" fill="#fff" stroke="#555" stroke-width="0.25"/>
<text x="462.18" y="239.50" font-size="6.71" text-anchor="middle" font-weight="normal" fill="#111"  textLength="12.21" lengthAdjust="spacing">50%</text>
<rect x="500.12" y="233.80" width="13.80" height="7.10" fill="#fff" stroke="#555" stroke-width="0.25"/>
<text x="507.02" y="239.50" font-size="6.71" text-anchor="middle" font-weight="normal" fill="#111"  textLength="12.21" lengthAdjust="spacing">10%</text>
<rect x="369.31" y="254.80" width="13.80" height="7.10" fill="#fff" stroke="#555" stroke-width="0.25"/>
<text x="376.21" y="260.50" font-size="6.71" text-anchor="middle" font-weight="normal" fill="#111"  textLength="12.21" lengthAdjust="spacing">15%</text>
<rect x="431.36" y="254.80" width="13.80" height="7.10" fill="#fff" stroke="#555" stroke-width="0.25"/>
<text x="438.25" y="260.50" font-size="6.71" text-anchor="middle" font-weight="normal" fill="#111"  textLength="12.21" lengthAdjust="spacing">68%</text>
<rect x="494.89" y="254.80" width="13.80" height="7.10" fill="#fff" stroke="#555" stroke-width="0.25"/>
<text x="501.79" y="260.50" font-size="6.71" text-anchor="middle" font-weight="normal" fill="#111"  textLength="12.21" lengthAdjust="spacing">17%</text>
<rect x="364.29" y="275.80" width="10.40" height="7.10" fill="#fff" stroke="#555" stroke-width="0.25"/>
<text x="369.49" y="281.50" font-size="6.71" text-anchor="middle" font-weight="normal" fill="#111"  textLength="8.82" lengthAdjust="spacing">6%</text>
<rect x="423.88" y="275.80" width="13.80" height="7.10" fill="#fff" stroke="#555" stroke-width="0.25"/>
<text x="430.78" y="281.50" font-size="6.71" text-anchor="middle" font-weight="normal" fill="#111"  textLength="12.21" lengthAdjust="spacing">76%</text>
<rect x="494.15" y="275.80" width="13.80" height="7.10" fill="#fff" stroke="#555" stroke-width="0.25"/>
<text x="501.05" y="281.50" font-size="6.71" text-anchor="middle" font-weight="normal" fill="#111"  textLength="12.21" lengthAdjust="spacing">18%</text>
<rect x="214.40" y="195.60" width="6.00" height="6.00" fill="#000" stroke="#444" stroke-width="0.4"/>
<text x="221.80" y="201.20" font-size="6.75" text-anchor="start" font-weight="normal" fill="#111" >Not Transmapped</text>
<rect x="214.40" y="202.10" width="6.00" height="6.00" fill="#9b9b9b" stroke="#444" stroke-width="0.4"/>
<text x="221.80" y="208.00" font-size="6.75" text-anchor="start" font-weight="normal" fill="#111" >Transmapped, Not Expressed</text>
<rect x="214.40" y="208.60" width="6.00" height="6.00" fill="#0ccccc" stroke="#444" stroke-width="0.4"/>
<text x="221.80" y="214.80" font-size="6.75" text-anchor="start" font-weight="normal" fill="#111" >Transmapped, Expressed</text>
</g>
</svg>
</body></html>
